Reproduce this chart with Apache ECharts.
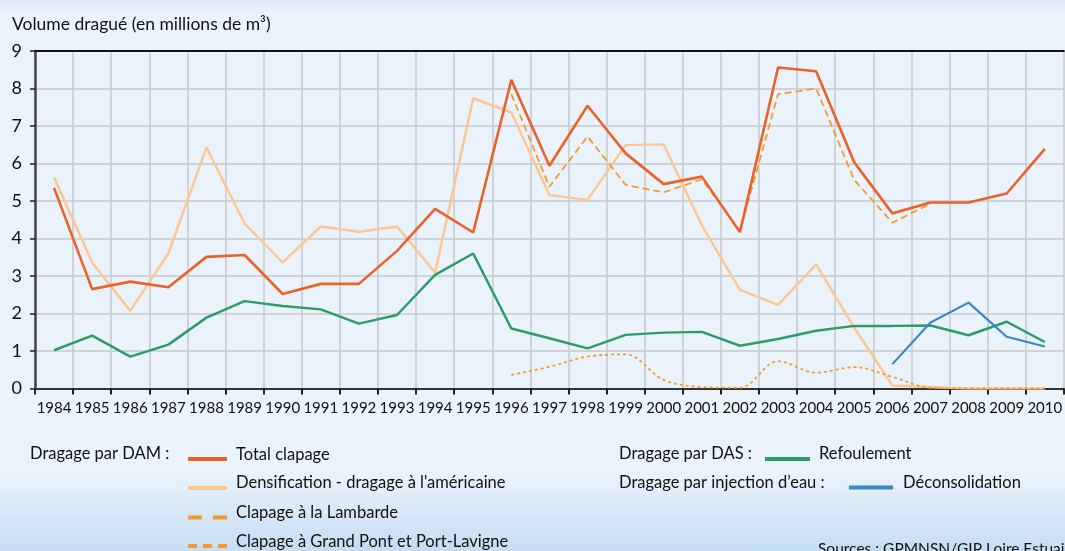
<!DOCTYPE html>
<html>
<head>
<meta charset="utf-8">
<script src="https://cdn.jsdelivr.net/npm/echarts@6/dist/echarts.min.js"></script>
<style>
html,body{margin:0;padding:0;width:1065px;height:551px;overflow:hidden;}
body{background:linear-gradient(to bottom,#dfebf8 0%,#eaf3fb 3%,#eaf3fb 86%,#c5ddf2 100%);}
#chart{width:1065px;height:551px;}
</style>
</head>
<body>
<div id="chart"></div>
<script>
const years = ['1984','1985','1986','1987','1988','1989','1990','1991','1992','1993','1994','1995','1996','1997','1998','1999','2000','2001','2002','2003','2004','2005','2006','2007','2008','2009','2010'];
const yTicks = [0,1,2,3,4,5,6,7,8,9];
const totalClapage = [5.35,2.65,2.85,2.7,3.51,3.56,2.52,2.79,2.79,3.67,4.79,4.16,8.23,5.94,7.54,6.27,5.45,5.65,4.17,8.56,8.46,6.03,4.67,4.96,4.96,5.2,6.39];
const densification = [5.63,3.36,2.07,3.6,6.43,4.4,3.36,4.32,4.18,4.32,3.09,7.74,7.36,5.16,5.03,6.49,6.51,4.35,2.63,2.23,3.31,1.62,0.08,0.04,0,0,0];
const lambarde = [null,null,null,null,null,null,null,null,null,null,null,null,7.85,5.38,6.72,5.43,5.23,5.58,4.2,7.85,8.0,5.56,4.42,4.93,null,null,null];
const grandPont = [null,null,null,null,null,null,null,null,null,null,null,null,0.36,0.58,0.85,0.91,0.23,0.04,0.02,0.73,0.42,0.57,0.31,0.02,0,0,0];
const refoulement = [1.02,1.41,0.85,1.17,1.89,2.33,2.2,2.11,1.73,1.96,3.03,3.6,1.6,1.34,1.07,1.43,1.49,1.51,1.14,1.32,1.54,1.67,1.67,1.68,1.42,1.78,1.24];
const deconsolidation = [null,null,null,null,null,null,null,null,null,null,null,null,null,null,null,null,null,null,null,null,null,null,0.65,1.76,2.29,1.38,1.12];

const C_TOTAL = '#e8622a', C_DENS = '#fcc693', C_DASH = '#f29a2e', C_GREEN = '#2e9c69', C_BLUE = '#3a86c8';
const FONT = 'Lato';
const TXT = '#111111';

const chart = echarts.init(document.getElementById('chart'), null, {renderer:'canvas'});

function legendLine(x1,x2,y,color,dash){
  return {type:'line', shape:{x1:x1,y1:y,x2:x2,y2:y}, style:{stroke:color, lineWidth:4, lineDash:dash||null}, silent:true};
}
function legendText(x,y,t,size){
  return {type:'text', x:x, y:y, style:{text:t, font:(size||16.5)+'px '+FONT, fill:TXT, textVerticalAlign:'middle', textAlign:'left'}, silent:true};
}

const option = {
  backgroundColor:'transparent',
  animation:false,
  grid:{left:35, top:51, width:1039.5, height:337.5, containLabel:false},
  xAxis:[{
    type:'category', data:years, boundaryGap:true, position:'bottom',
    axisLine:{lineStyle:{color:'#333', width:2}},
    axisTick:{show:true, length:6, alignWithLabel:false, lineStyle:{color:'#222', width:2}},
    axisLabel:{fontFamily:FONT, fontSize:15, color:TXT, margin:12, interval:0},
    splitLine:{show:true, interval:0, lineStyle:{color:'#c6c9cc', width:1.5}}
  },{
    type:'category', data:years, boundaryGap:true, position:'top',
    axisLine:{lineStyle:{color:'#111', width:2}},
    axisTick:{show:false}, axisLabel:{show:false}, splitLine:{show:false}
  }],
  yAxis:{
    type:'value', min:yTicks[0], max:yTicks[yTicks.length-1], interval:1,
    axisLine:{show:true, lineStyle:{color:'#444', width:2.5}},
    axisTick:{show:true, length:5, lineStyle:{color:'#222', width:1.5}},
    axisLabel:{fontFamily:FONT, fontSize:18, color:TXT, margin:13},
    splitLine:{show:true, lineStyle:{color:'#c6c9cc', width:1.5}}
  },
  series:[
    {name:'Densification - dragage à l\'américaine', type:'line', data:densification, symbol:'none', lineStyle:{color:C_DENS, width:2.5}, z:2},
    {name:'Refoulement', type:'line', data:refoulement, symbol:'none', lineStyle:{color:C_GREEN, width:2.5}, z:3},
    {name:'Déconsolidation', type:'line', data:deconsolidation, symbol:'none', lineStyle:{color:C_BLUE, width:2.2}, z:3},
    {name:'Clapage à Grand Pont et Port-Lavigne', type:'line', data:grandPont, symbol:'none', smooth:0.35, lineStyle:{color:C_DASH, width:1.8, type:[3,3]}, z:4},
    {name:'Clapage à la Lambarde', type:'line', data:lambarde, symbol:'none', lineStyle:{color:C_DASH, width:1.8, type:[7,4]}, z:4},
    {name:'Total clapage', type:'line', data:totalClapage, symbol:'none', lineStyle:{color:C_TOTAL, width:2.6}, z:5}
  ],
  graphic:[
    {type:'text', x:12, y:24, style:{text:'Volume dragué (en millions de m³)', font:'17.5px '+FONT, fill:TXT, textVerticalAlign:'middle'}},
    legendText(30,454,'Dragage par DAM :'),
    legendLine(188,227,459,C_TOTAL),
    legendText(236,455,'Total clapage'),
    legendLine(188,227,488,C_DENS),
    legendText(236,483,'Densification - dragage à l\'américaine'),
    legendLine(188,227,517.5,C_DASH,[14,11]),
    legendText(236,512.5,'Clapage à la Lambarde'),
    legendLine(188,227,546,C_DASH,[9,6]),
    legendText(236,541.5,'Clapage à Grand Pont et Port-Lavigne'),
    legendText(619,454,'Dragage par DAS :'),
    legendLine(765,810,459,C_GREEN),
    legendText(819,454,'Refoulement'),
    legendText(619,483,'Dragage par injection d\u2019eau :'),
    legendLine(849,893,487.5,C_BLUE),
    legendText(903,483,'Déconsolidation'),
    {type:'text', x:818, y:541, style:{text:'Sources : GPMNSN/GIP Loire Estuaire', font:'15.5px '+FONT, fill:TXT, textVerticalAlign:'top'}}
  ]
};
chart.setOption(option);
</script>
</body>
</html>
